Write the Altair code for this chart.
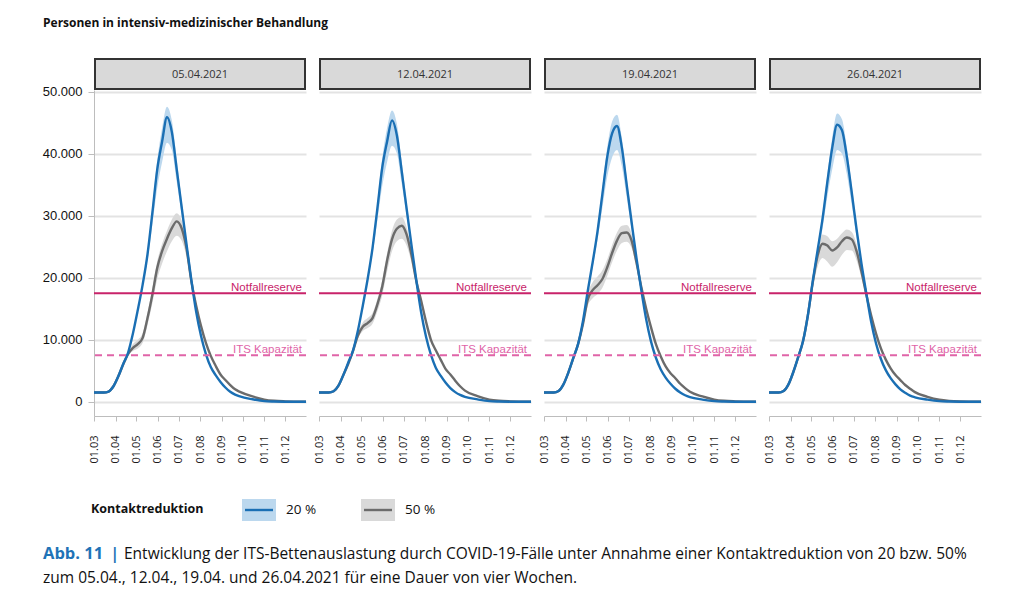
import altair as alt
import pandas as pd

# ---------------- data ----------------
PANELS = ["05.04.2021", "12.04.2021", "19.04.2021", "26.04.2021"]
SERIES = ["20 %", "50 %"]

LINE_DATES = [
    "2021-03-01", "2021-03-08", "2021-03-15", "2021-03-22", "2021-03-29",
    "2021-04-05", "2021-04-12", "2021-04-19", "2021-04-26", "2021-05-03",
    "2021-05-10", "2021-05-17", "2021-05-24", "2021-05-31", "2021-06-07",
    "2021-06-14", "2021-06-21", "2021-06-28", "2021-07-05", "2021-07-12",
    "2021-07-19", "2021-07-26", "2021-08-02", "2021-08-09", "2021-08-16",
    "2021-08-23", "2021-08-30", "2021-09-06", "2021-09-13", "2021-09-20",
    "2021-09-27", "2021-10-15", "2021-11-01", "2021-11-15", "2021-12-01",
    "2021-12-31",
]

BLUE_P1 = [1500, 1500, 1500, 1650, 2500, 4100, 6100, 7900, 11000, 14800,
           18900, 23800, 30500, 37500, 42000, 45900, 43500, 37500, 31500, 25500,
           19700, 14500, 10600, 7700, 5600, 4300, 3200, 2300, 1600, 1150,
           850, 400, 100, 40, 10, 0]
GRAY_P1 = [1500, 1500, 1500, 1650, 2500, 4100, 6000, 7700, 8700, 9300,
           10300, 13500, 17300, 21600, 24300, 26300, 28000, 29100, 28000, 24800,
           19500, 15500, 12200, 9500, 7400, 5800, 4400, 3500, 2700, 2000,
           1600, 850, 350, 150, 60, 0]
BLUE_P2 = [1500, 1500, 1500, 1700, 2600, 4300, 6300, 8300, 11500, 15500,
           19800, 24800, 31200, 37800, 42000, 45400, 43000, 37200, 31200, 25300,
           19600, 14400, 10500, 7600, 5500, 4200, 3100, 2200, 1550, 1100,
           800, 380, 100, 40, 10, 0]
GRAY_P2 = [1500, 1500, 1500, 1700, 2600, 4300, 6100, 8200, 10700, 12100,
           12700, 13500, 15700, 18600, 22800, 26200, 27900, 28400, 27000, 23700,
           19500, 16300, 12900, 10000, 8300, 6800, 5300, 4400, 3400, 2500,
           1800, 900, 350, 150, 60, 0]
BLUE_P3 = [1500, 1500, 1500, 1750, 2800, 4700, 7000, 9300, 13000, 17900,
           22500, 27500, 33500, 39500, 43300, 44500, 41000, 35000, 29000, 23200,
           18000, 13300, 9700, 7100, 5200, 3900, 2900, 2100, 1500, 1050,
           750, 350, 100, 40, 10, 0]
GRAY_P3 = [1500, 1500, 1500, 1750, 2800, 4700, 7000, 9300, 12500, 16500,
           18000, 18800, 19800, 21700, 24000, 26000, 27200, 27300, 26000, 22500,
           18500, 15000, 12000, 9300, 7300, 5700, 4600, 3800, 2900, 2200,
           1600, 850, 350, 150, 60, 0]
BLUE_P4 = [1500, 1500, 1500, 1750, 2800, 4800, 7200, 9800, 14000, 19500,
           24500, 29500, 35500, 41000, 44700, 43800, 39500, 33800, 27800, 22300,
           17500, 12900, 9400, 6900, 5100, 3800, 2800, 2000, 1450, 1000,
           720, 340, 100, 40, 10, 0]
GRAY_P4 = [1500, 1500, 1500, 1750, 2800, 4800, 7200, 9800, 14000, 19300,
           23600, 25500, 25200, 24400, 24900, 25900, 26500, 26200, 24300, 21000,
           17300, 13900, 11000, 8600, 6800, 5400, 4300, 3500, 2700, 2100,
           1550, 800, 330, 140, 50, 0]

BAND_DATES = [
    "2021-04-19", "2021-04-26", "2021-05-03", "2021-05-10", "2021-05-17",
    "2021-05-24", "2021-05-31", "2021-06-07", "2021-06-14", "2021-06-21",
    "2021-06-28", "2021-07-05", "2021-07-12", "2021-07-19", "2021-07-26",
    "2021-08-02", "2021-08-09",
]
BLUE_P1_HI = [7900, 11000, 14900, 19100, 24400, 31600, 39000, 44200, 47600, 45400,
              39200, 32600, 26200, 20100, 14700, 10700, 7700]
BLUE_P1_LO = [7900, 11000, 14700, 18600, 22900, 28600, 34500, 38700, 41800, 40600,
              35500, 30200, 24700, 19200, 14200, 10500, 7700]
GRAY_P1_HI = [7800, 9300, 10000, 11100, 14400, 18300, 22700, 25500, 27600, 29400,
              30400, 29300, 25900, 20200, 16000, 12500, 9600]
GRAY_P1_LO = [7600, 8200, 8600, 9500, 12400, 15900, 19800, 22300, 24300, 25900,
              26800, 26000, 23400, 18700, 15000, 11900, 9400]
BLUE_P2_HI = [8300, 11500, 15600, 20000, 25400, 32300, 39300, 44200, 47000, 44900,
              38800, 32300, 26000, 20000, 14600, 10600, 7600]
BLUE_P2_LO = [8300, 11500, 15400, 19500, 23900, 29300, 34800, 38700, 41300, 40100,
              35200, 29900, 24500, 19100, 14100, 10400, 7600]
GRAY_P2_HI = [8300, 11200, 12800, 13500, 14300, 16600, 19700, 24000, 27600, 29400,
              29800, 28200, 24600, 20200, 16800, 13200, 10100]
GRAY_P2_LO = [8100, 10200, 11400, 11900, 12600, 14600, 17200, 21000, 24300, 25900,
              26300, 25200, 22500, 18700, 15800, 12600, 9900]
BLUE_P3_HI = [9300, 13100, 18100, 22900, 28200, 34700, 41100, 45200, 46300, 42600,
              36200, 29800, 23700, 18300, 13500, 9800, 7100]
BLUE_P3_LO = [9300, 12900, 17600, 21700, 26100, 31300, 36300, 39400, 40600, 38000,
              33000, 27700, 22400, 17600, 13100, 9600, 7100]
GRAY_P3_HI = [9400, 13000, 17500, 19300, 20200, 21200, 23000, 25300, 27300, 28400,
              28500, 27100, 23400, 19200, 15500, 12300, 9400]
GRAY_P3_LO = [9200, 12000, 15500, 16700, 17400, 18400, 20300, 22500, 24400, 25600,
              25800, 24800, 21600, 17800, 14500, 11700, 9200]
BLUE_P4_HI = [9800, 14100, 19800, 25000, 30300, 36800, 42600, 46500, 45600, 41100,
              35000, 28600, 22800, 17800, 13100, 9500, 6900]
BLUE_P4_LO = [9800, 13900, 19100, 23600, 27900, 33100, 37500, 40600, 40000, 36700,
              31800, 26500, 21500, 17100, 12700, 9300, 6900]
GRAY_P4_HI = [9800, 14200, 20000, 25000, 27000, 26700, 25900, 26300, 27200, 27800,
              27400, 25400, 21800, 17900, 14300, 11200, 8700]
GRAY_P4_LO = [9800, 13700, 18300, 21800, 23200, 22600, 21800, 22500, 23700, 24500,
              24400, 22800, 20000, 16600, 13400, 10700, 8500]

LINES = {
    PANELS[0]: (BLUE_P1, GRAY_P1), PANELS[1]: (BLUE_P2, GRAY_P2),
    PANELS[2]: (BLUE_P3, GRAY_P3), PANELS[3]: (BLUE_P4, GRAY_P4),
}
BANDS = {
    PANELS[0]: ((BLUE_P1_LO, BLUE_P1_HI), (GRAY_P1_LO, GRAY_P1_HI)),
    PANELS[1]: ((BLUE_P2_LO, BLUE_P2_HI), (GRAY_P2_LO, GRAY_P2_HI)),
    PANELS[2]: ((BLUE_P3_LO, BLUE_P3_HI), (GRAY_P3_LO, GRAY_P3_HI)),
    PANELS[3]: ((BLUE_P4_LO, BLUE_P4_HI), (GRAY_P4_LO, GRAY_P4_HI)),
}

THRESH_LABELS = ["Notfallreserve", "ITS Kapazität"]
THRESH_VALUES = [17500, 7500]
Y_TICKS = [0, 10000, 20000, 30000, 40000, 50000]
TICK_MONTHS = [3, 4, 5, 6, 7, 8, 9, 10, 11, 12]

TITLE = "Personen in intensiv-medizinischer Behandlung"
LEGEND_TITLE = "Kontaktreduktion"
CAPTION_LEAD = "Abb. 11"
CAPTION_BAR = "|"
CAPTION_1 = ("Entwicklung der ITS-Bettenauslastung durch COVID-19-Fälle unter "
             "Annahme einer Kontaktreduktion von 20 bzw. 50%")
CAPTION_2 = "zum 05.04., 12.04., 19.04. und 26.04.2021 für eine Dauer von vier Wochen."

# ---------------- styling ----------------
W, H = 212, 326
LINE_COLORS = ["#1a6fb4", "#6b6b6b"]
BAND_COLORS = ["#bcd8ee", "#d9d9d9"]
NOTFALL = "#c8236a"
ITS = "#e064a8"
GRID = "#e3e3e3"
AXISC = "#bdbdbd"
FONT = "Open Sans"
NUMFONT = "Liberation Sans"
CAP_SIZE = 15.5

line_rows, band_rows = [], []
for p in PANELS:
    for s, vals in zip(SERIES, LINES[p]):
        for d, v in zip(LINE_DATES, vals):
            line_rows.append({"panel": p, "series": s, "date": d, "value": v})
    for s, (lo, hi) in zip(SERIES, BANDS[p]):
        for d, a, b in zip(BAND_DATES, lo, hi):
            band_rows.append({"panel": p, "series": s, "date": d, "lo": a, "hi": b})
lines_df = pd.DataFrame(line_rows)
lines_df["date"] = pd.to_datetime(lines_df["date"])
bands_df = pd.DataFrame(band_rows)
bands_df["date"] = pd.to_datetime(bands_df["date"])
thr_df = pd.DataFrame({"label": THRESH_LABELS, "value": THRESH_VALUES})

x_scale = alt.Scale(domain=[alt.DateTime(year=2021, month=3, date=1),
                            alt.DateTime(year=2021, month=12, date=31)])
y_scale = alt.Scale(domain=[-2300, 50300], nice=False, zero=False)

x_axis = alt.Axis(values=[alt.DateTime(year=2021, month=m, date=1) for m in TICK_MONTHS],
                  format="%d.%m", labelAngle=270, labelFont=FONT, labelFontSize=11,
                  labelColor="#1a1a1a", domainColor=AXISC, tickColor=AXISC, tickSize=5,
                  labelPadding=14, grid=False, title=None, labelOverlap=False)


def y_axis(first):
    if first:
        return alt.Axis(values=Y_TICKS, labelExpr="replace(format(datum.value, ','), ',', '.')",
                        grid=True, gridColor=GRID, gridWidth=2, domain=True,
                        domainColor=AXISC, ticks=True, tickColor=AXISC, tickSize=6,
                        labelFont=NUMFONT, labelFontSize=13, labelColor="#111111",
                        labelPadding=6, title=None)
    return alt.Axis(values=Y_TICKS, grid=True, gridColor=GRID, gridWidth=2,
                    domain=False, ticks=False, labels=False, title=None)


def text_layer(data, txt, x, y, size, weight="normal", color="#111111", align="left"):
    return alt.Chart(data).mark_text(text=txt, font=FONT, fontSize=size, fontWeight=weight,
                                     align=align, color=color).encode(
        x=alt.value(x), y=alt.value(y))


def panel(idx, name):
    first = idx == 0
    X = alt.X("date:T", scale=x_scale, axis=x_axis)
    layers = []
    for i, s in enumerate(SERIES):
        bd = bands_df[(bands_df.panel == name) & (bands_df.series == s)]
        layers.append(alt.Chart(bd).mark_area(color=BAND_COLORS[i], opacity=1,
                                               interpolate="monotone").encode(
            x=X, y=alt.Y("lo:Q", scale=y_scale, axis=y_axis(first)), y2="hi:Q"))
    for i, s in reversed(list(enumerate(SERIES))):
        ld = lines_df[(lines_df.panel == name) & (lines_df.series == s)]
        layers.append(alt.Chart(ld).mark_line(color=LINE_COLORS[i], strokeWidth=2.4,
                                               interpolate="monotone").encode(
            x=X, y=alt.Y("value:Q", scale=y_scale, axis=y_axis(first))))
    layers.append(alt.Chart(thr_df[thr_df.label == THRESH_LABELS[0]]).mark_rule(
        color=NOTFALL, strokeWidth=2).encode(y=alt.Y("value:Q", scale=y_scale)))
    layers.append(alt.Chart(thr_df[thr_df.label == THRESH_LABELS[1]]).mark_rule(
        color=ITS, strokeWidth=2, strokeDash=[7, 5]).encode(y=alt.Y("value:Q", scale=y_scale)))
    for lab, col in zip(THRESH_LABELS, [NOTFALL, ITS]):
        layers.append(alt.Chart(thr_df[thr_df.label == lab]).mark_text(
            align="right", baseline="alphabetic", dy=-2, font=NUMFONT, fontSize=11.5,
            color=col).encode(x=alt.value(W - 4), y=alt.Y("value:Q", scale=y_scale),
                              text="label:N"))
    hdr = pd.DataFrame({"panel": [name]})
    layers.append(alt.Chart(hdr).mark_rect(fill="#d9d9d9", stroke="#333333",
                                           strokeWidth=2).encode(
        x=alt.value(1), x2=alt.value(W - 1), y=alt.value(-31), y2=alt.value(-1)))
    layers.append(alt.Chart(hdr).mark_text(font=FONT, fontSize=11, color="#333333").encode(
        x=alt.value(W / 2), y=alt.value(-15), text="panel:N"))

    if first:
        one = pd.DataFrame({"k": [0]})
        layers.append(text_layer(one, TITLE, -51, -67, 12, "bold"))
        layers.append(text_layer(one, LEGEND_TITLE, -3, 419, 12.5, "bold"))
        for i, s in enumerate(SERIES):
            x0 = 148 + i * 119
            layers.append(alt.Chart(one).mark_rect(color=BAND_COLORS[i]).encode(
                x=alt.value(x0), x2=alt.value(x0 + 34), y=alt.value(409), y2=alt.value(431)))
            layers.append(alt.Chart(one).mark_rule(color=LINE_COLORS[i], strokeWidth=2.4).encode(
                x=alt.value(x0 + 3), x2=alt.value(x0 + 31), y=alt.value(420)))
            layers.append(text_layer(one, s, x0 + 44, 420, 13.5))
        layers.append(text_layer(one, CAPTION_LEAD, -51, 464, 16.5, "bold", "#1f73b7"))
        layers.append(text_layer(one, CAPTION_BAR, 25, 464, CAP_SIZE, "bold", "#1f73b7",
                                 align="right"))
        layers.append(text_layer(one, CAPTION_1, 30, 464, CAP_SIZE))
        layers.append(text_layer(one, CAPTION_2, -51, 488, CAP_SIZE))

    return alt.layer(*layers).properties(width=W, height=H)


chart = alt.hconcat(*[panel(i, p) for i, p in enumerate(PANELS)],
                    spacing=13, bounds="flush").properties(
    padding={"left": 42, "top": 17, "right": 5, "bottom": 5}
).configure_view(stroke=None).configure_axis(labelFlush=False)

chart.save("out.html", embed_options={"renderer": "svg", "actions": False})
